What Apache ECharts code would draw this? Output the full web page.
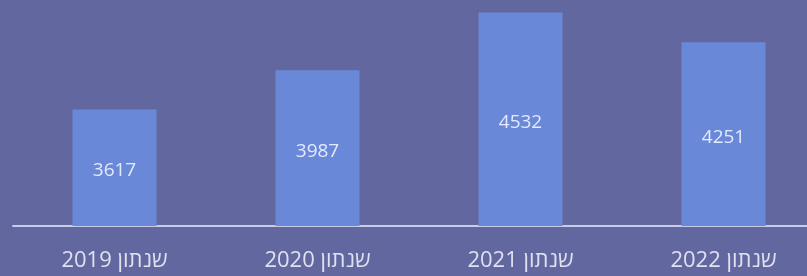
<!DOCTYPE html>
<html lang="he">
<head>
    <meta charset="UTF-8">
    <title>שנתון</title>
    <script src="https://cdn.jsdelivr.net/npm/echarts@6/dist/echarts.min.js"></script>
    <style>
        html, body { margin: 0; padding: 0; background: #62679f; }
    </style>
</head>
<body>
<div id="container" style="width:807px; height:276px;"></div>
<script>
    // נתונים
    let years = ['שנתון 2019', 'שנתון 2020', 'שנתון 2021', 'שנתון 2022'];
    let values = [3617, 3987, 4532, 4251];

    let chart = echarts.init(document.getElementById('container'));
    let option = {
        backgroundColor: '#62679f',
        animation: false,
        grid: {left: 13, width: 812, top: 0, bottom: 50, outerBoundsMode: 'none'},
        xAxis: {
            type: 'category',
            data: years,
            axisLine: {lineStyle: {color: '#c9cce6', width: 2}},
            axisTick: {show: false},
            axisLabel: {
                color: '#dfe1f0',
                fontSize: 22,
                fontFamily: '"Open Sans", "DejaVu Sans", sans-serif',
                margin: 24
            }
        },
        yAxis: {
            type: 'value',
            min: 2520,
            max: 4650,
            show: false
        },
        series: [{
            type: 'bar',
            data: values,
            barWidth: 84,
            itemStyle: {color: '#6a88d8'},
            label: {
                show: true,
                position: 'inside',
                offset: [0, 3],
                color: '#e3e9ff',
                fontSize: 19,
                fontFamily: '"Open Sans", "DejaVu Sans", sans-serif'
            }
        }]
    };
    chart.setOption(option);
</script>
</body>
</html>
